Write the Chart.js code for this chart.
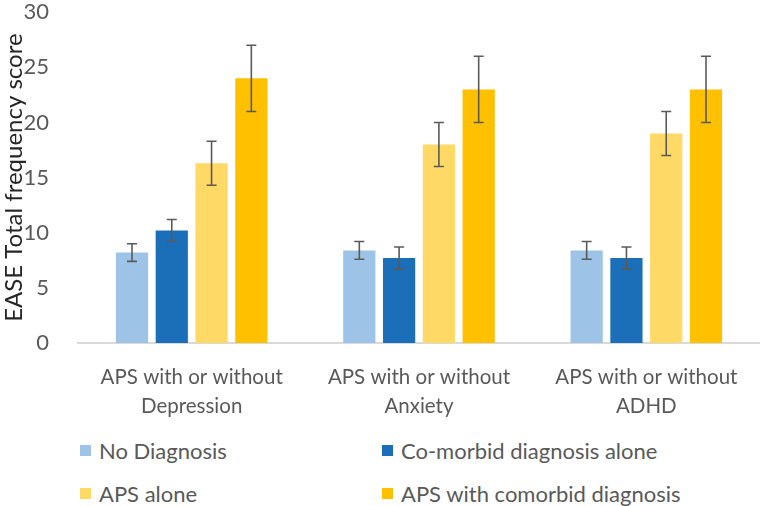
<!DOCTYPE html>
<html>
<head>
<meta charset="utf-8">
<script src="https://cdn.jsdelivr.net/npm/chart.js@4/dist/chart.umd.min.js"></script>
<style>
    body { margin: 0; background: #fff; font-family: Lato, sans-serif; }
    #wrap { position: relative; width: 760px; height: 506px; overflow: hidden; }
    #chartBox { position: absolute; left: 0; top: -22px; width: 760px; height: 455px; }
    #legend { position: absolute; left: 80px; top: 438px; display: grid; grid-template-columns: 302px 330px; row-gap: 18px; color: #595959; font-size: 22px; line-height: 25px; }
    .item { display: flex; align-items: center; height: 25px; }
    .swatch { width: 11px; height: 11px; margin-right: 8px; }
</style>
</head>
<body>
<div id="wrap">
    <div id="chartBox"><canvas id="chart"></canvas></div>
    <div id="legend"></div>
</div>
<script>
// Data
const categories = [
    ['APS with or without', 'Depression'],
    ['APS with or without', 'Anxiety'],
    ['APS with or without', 'ADHD']
];
const seriesNames = ['No Diagnosis', 'Co-morbid diagnosis alone', 'APS alone', 'APS with comorbid diagnosis'];
const noDiagnosis = [8.2, 8.4, 8.4];
const comorbidAlone = [10.2, 7.7, 7.7];
const apsAlone = [16.3, 18.0, 19.0];
const apsComorbid = [24.0, 23.0, 23.0];
// error bar half-widths
const noDiagnosisErr = [0.8, 0.8, 0.8];
const comorbidAloneErr = [1.0, 1.0, 1.0];
const apsAloneErr = [2.0, 2.0, 2.0];
const apsComorbidErr = [3.0, 3.0, 3.0];
const yTicks = [0, 5, 10, 15, 20, 25, 30];

const colors = ['#9DC3E6', '#1B6FB9', '#FFD966', '#FFC000'];
const values = [noDiagnosis, comorbidAlone, apsAlone, apsComorbid];
const errors = [noDiagnosisErr, comorbidAloneErr, apsAloneErr, apsComorbidErr];

// Draws the error bars from the bar elements and the y scale
const errorBars = {
    id: 'errorBars',
    afterDatasetsDraw(chart) {
        const ctx = chart.ctx;
        const yScale = chart.scales.y;
        ctx.save();
        ctx.strokeStyle = '#5a5a5a';
        ctx.lineWidth = 1.6;
        chart.data.datasets.forEach((ds, i) => {
            const meta = chart.getDatasetMeta(i);
            meta.data.forEach((bar, j) => {
                const v = ds.data[j];
                const e = errors[i][j];
                const top = yScale.getPixelForValue(v + e);
                const bottom = yScale.getPixelForValue(v - e);
                ctx.beginPath();
                ctx.moveTo(bar.x, top);
                ctx.lineTo(bar.x, bottom);
                ctx.moveTo(bar.x - 5, top);
                ctx.lineTo(bar.x + 5, top);
                ctx.moveTo(bar.x - 5, bottom);
                ctx.lineTo(bar.x + 5, bottom);
                ctx.stroke();
            });
        });
        ctx.restore();
    }
};

const chart = new Chart(document.getElementById('chart'), {
    type: 'bar',
    data: {
        labels: categories,
        datasets: seriesNames.map((name, i) => ({
            label: name,
            data: values[i],
            backgroundColor: colors[i],
            borderWidth: 0
        }))
    },
    options: {
        responsive: true,
        maintainAspectRatio: false,
        animation: false,
        layout: { padding: 0 },
        datasets: { bar: { categoryPercentage: 0.7, barPercentage: 0.81 } },
        plugins: {
            legend: { display: false },
            tooltip: { enabled: false }
        },
        scales: {
            x: {
                afterFit: axis => { axis.height = 90; },
                grid: { display: false },
                border: { color: '#d9d9d9', width: 2 },
                ticks: { color: '#595959', font: { family: 'Lato', size: 20.5, lineHeight: 1.4 }, maxRotation: 0, padding: 12 }
            },
            y: {
                min: 0,
                max: 30,
                afterBuildTicks: axis => { axis.ticks = yTicks.map(v => ({ value: v })); },
                afterFit: axis => { axis.width = 78; },
                grid: { display: false },
                border: { display: false },
                ticks: { color: '#595959', font: { family: 'Lato', size: 22 }, padding: 21 },
                title: { display: true, text: 'EASE Total frequency score', color: '#262626', font: { family: 'Lato', size: 24, lineHeight: 1.2 }, padding: 0 }
            }
        }
    },
    plugins: [errorBars]
});

// HTML legend in a 2x2 grid like the original
const legend = document.getElementById('legend');
seriesNames.forEach((name, i) => {
    const item = document.createElement('div');
    item.className = 'item';
    const sw = document.createElement('span');
    sw.className = 'swatch';
    sw.style.background = colors[i];
    const label = document.createElement('span');
    label.textContent = name;
    item.appendChild(sw);
    item.appendChild(label);
    legend.appendChild(item);
});
</script>
</body>
</html>
